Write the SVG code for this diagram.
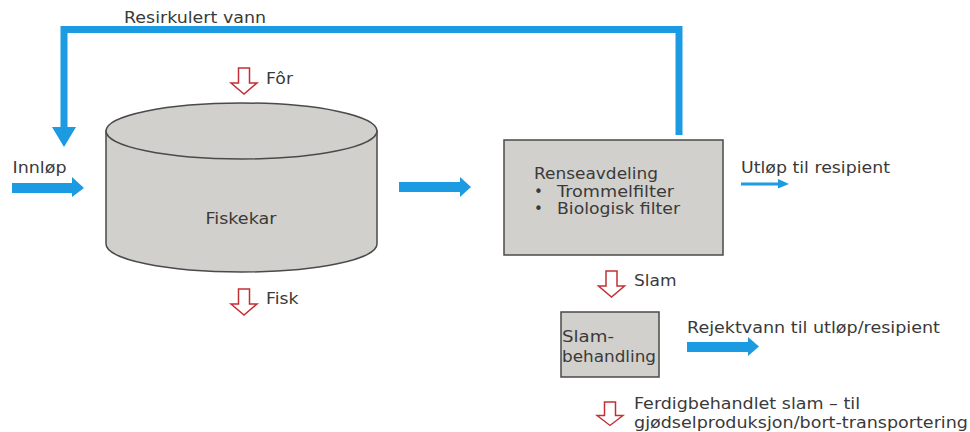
<svg xmlns="http://www.w3.org/2000/svg" xmlns:xlink="http://www.w3.org/1999/xlink" width="970" height="432" viewBox="0 0 970 432">
<style>
text{font-family:"DejaVu Sans","Liberation Sans",sans-serif;font-size:15px;fill:#3a3a3a}
.box{fill:#d1d0cc;stroke:#4a4a4a;stroke-width:1.5}
.blue{fill:#1c9be3}
.flow{fill:none;stroke:#1c9be3;stroke-width:7;stroke-linejoin:miter}
.red{fill:#fff;stroke:#c23035;stroke-width:1.5;stroke-linejoin:miter}
</style>
<defs>
<path id="redArrow" d="M-5.5,0 H5.5 V15 H13 L0,26 L-13,15 H-5.5 Z"/>
</defs>
<rect width="970" height="432" fill="#fff"/>
<g id="connectors">
<polyline class="flow" points="679,135 679,29.5 64,29.5 64,128"/>
<polygon class="blue" points="52,127 76,127 64,147"/>
<polygon class="blue" points="12,183 72,183 72,177 84,188 72,197 72,193 12,193"/>
<polygon class="blue" points="399,182 460,182 460,177 471,187 460,197 460,192 399,192"/>
<polygon class="blue" points="741,182.5 778,182.5 778,179 789,184 778,188.5 778,185.5 741,185.5"/>
<polygon class="blue" points="687,342 748,342 748,337 759,346.5 748,356 748,352 687,352"/>
<use href="#redArrow" xlink:href="#redArrow" class="red" transform="translate(244,68)"/>
<use href="#redArrow" xlink:href="#redArrow" class="red" transform="translate(244,289)"/>
<use href="#redArrow" xlink:href="#redArrow" class="red" transform="translate(611.5,271)"/>
<use href="#redArrow" xlink:href="#redArrow" class="red" transform="translate(610,402) scale(1,0.9)"/>
</g>
<g id="labels">
<text x="124" y="23" textLength="142" lengthAdjust="spacingAndGlyphs">Resirkulert vann</text>
<text x="12.5" y="173" textLength="54" lengthAdjust="spacingAndGlyphs">Innløp</text>
<text x="266" y="83.5" textLength="27" lengthAdjust="spacingAndGlyphs">Fôr</text>
<text x="266" y="304" textLength="32.5" lengthAdjust="spacingAndGlyphs">Fisk</text>
<text x="741" y="173" textLength="149" lengthAdjust="spacingAndGlyphs">Utløp til resipient</text>
<text x="634" y="286" textLength="42.5" lengthAdjust="spacingAndGlyphs">Slam</text>
<text x="687" y="332.5" textLength="253" lengthAdjust="spacingAndGlyphs">Rejektvann til utløp/resipient</text>
<text x="634" y="409" textLength="226" lengthAdjust="spacingAndGlyphs">Ferdigbehandlet slam – til</text>
<text x="634" y="428" textLength="334" lengthAdjust="spacingAndGlyphs">gjødselproduksjon/bort-transportering</text>
</g>
<g id="fiskekar">
<path class="box" d="M106,131 L106,244 A135.5,28 0 0 0 377,244 L377,131 Z"/>
<ellipse class="box" cx="241.5" cy="131" rx="135.5" ry="28"/>
<text x="205.5" y="224" textLength="71" lengthAdjust="spacingAndGlyphs">Fiskekar</text>
</g>
<g id="renseavdeling">
<rect class="box" x="504" y="140" width="219" height="115"/>
<text x="534" y="179" textLength="124" lengthAdjust="spacingAndGlyphs">Renseavdeling</text>
<text x="534" y="197">•</text>
<text x="557" y="197" textLength="117" lengthAdjust="spacingAndGlyphs">Trommelfilter</text>
<text x="534" y="214">•</text>
<text x="557" y="214" textLength="123" lengthAdjust="spacingAndGlyphs">Biologisk filter</text>
</g>
<g id="slambehandling">
<rect class="box" x="561" y="312" width="98" height="65"/>
<text x="562" y="342" textLength="52" lengthAdjust="spacingAndGlyphs">Slam-</text>
<text x="562" y="361.5" textLength="94" lengthAdjust="spacingAndGlyphs">behandling</text>
</g>
</svg>
